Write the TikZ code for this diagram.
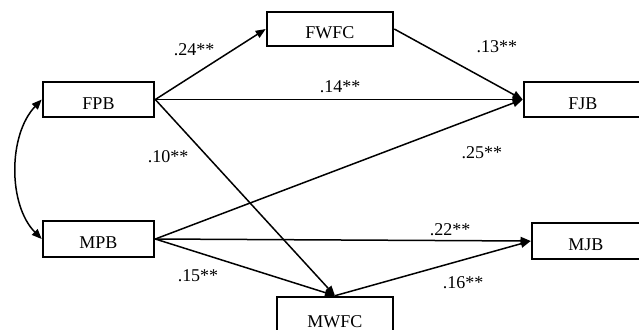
\documentclass[tikz,border=0pt]{standalone}
\usepackage{fontspec}
\setmainfont{Liberation Serif}
\usetikzlibrary{arrows.meta}
\begin{document}
\begin{tikzpicture}[x=0.5pt,y=-0.5pt,
  var/.style={draw, line width=1.3pt, inner sep=0pt, font=\fontsize{9}{10}\selectfont, text height=9.5pt, text depth=0pt},
  path/.style={line width=0.75pt, -{Triangle[length=5pt,width=4pt]}},
  coef/.style={font=\fontsize{9}{10}\selectfont, inner sep=0pt}]
\useasboundingbox (0,0) rectangle (639,329);
\clip (0,0) rectangle (639,329);
\node[var, minimum width=55.5pt, minimum height=17.5pt] (FPB) at (98.5,99.5) {FPB};
\node[var, minimum width=55.5pt, minimum height=18pt] (MPB) at (98.5,239) {MPB};
\node[var, minimum width=63pt, minimum height=17pt] (FWFC) at (330,29) {FWFC};
\node[var, minimum width=59pt, minimum height=17.5pt] (FJB) at (583,99.5) {FJB};
\node[var, minimum width=54pt, minimum height=18pt] (MJB) at (586,241) {MJB};
\node[var, minimum width=58pt, minimum height=22pt, text height=8pt] (MWFC) at (335,319) {MWFC};
\draw[path] (FPB.east) -- (FWFC.west);
\draw[path] (FPB.east) -- (FJB.west);
\draw[path] (FPB.east) -- (MWFC.north);
\draw[path] (FWFC.east) -- (FJB.west);
\draw[path] (MPB.east) -- (FJB.west);
\draw[path] (MPB.east) -- (MJB.west);
\draw[path] (MPB.east) -- (MWFC.north);
\draw[path] (MWFC.north) -- (MJB.west);
\draw[line width=0.75pt, {Triangle[length=5pt,width=4pt]}-{Triangle[length=5pt,width=4pt]}]
  (FPB.west) .. controls (8,135) and (8,205) .. (MPB.west);
\node[coef] (c24) at (194,50) {.24**};
\node[coef] (c14) at (340,87) {.14**};
\node[coef] (c13) at (497,47) {.13**};
\node[coef] (c25) at (482,153) {.25**};
\node[coef] (c10) at (168,157) {.10**};
\node[coef] (c15) at (198,276) {.15**};
\node[coef] (c22) at (450,230) {.22**};
\node[coef] (c16) at (463,283) {.16**};
\end{tikzpicture}
\end{document}
